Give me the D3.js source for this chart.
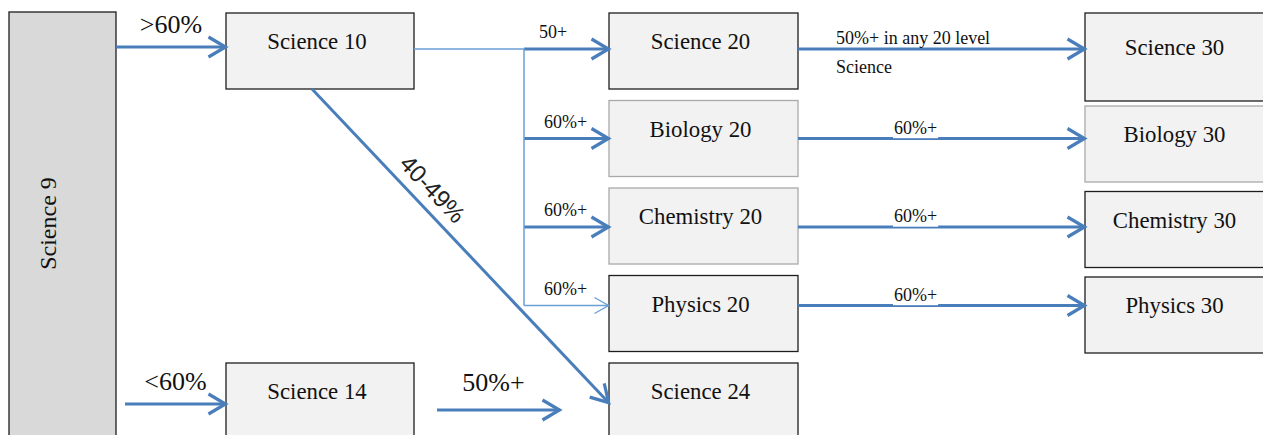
<!DOCTYPE html>
<html>
<head>
<meta charset="utf-8">
<script src="https://cdn.jsdelivr.net/npm/d3@7"></script>
<style>
  body { margin: 0; background: #fff; }
  svg { display: block; }
  .box rect { fill: #f2f2f2; stroke: #1e1e1e; stroke-width: 1.3; }
  .box.light rect { stroke: #a9a9a9; }
  .box.root rect { fill: #d9d9d9; }
  .box text { font-family: "Liberation Serif", "Times New Roman", serif; font-size: 24px; fill: #111; }
  .edge { fill: none; stroke: #4a7ebb; stroke-width: 3; }
  .edge.thin { stroke: #6a9fd8; stroke-width: 1.5; }
  .lbl { font-family: "Liberation Serif", "Times New Roman", serif; fill: #111; }
  .lbl.big { font-size: 26px; }
  .lbl.small { font-size: 18px; }
  .lbl.sans { font-family: "Liberation Sans", Arial, sans-serif; font-size: 24px; fill: #222; }
</style>
</head>
<body>
<script>
// courses, their grade level and the row they sit on in their column
var courses = ["Science 9", "Science 10", "Science 14", "Science 20", "Biology 20",
               "Chemistry 20", "Physics 20", "Science 24", "Science 30", "Biology 30",
               "Chemistry 30", "Physics 30"];
var courseLevel = [9, 10, 14, 20, 20, 20, 20, 24, 30, 30, 30, 30];
var courseRow = [0, 0, 4, 0, 1, 2, 3, 4, 0, 1, 2, 3];

// pathways between courses and the mark needed
var pathFrom = ["Science 9", "Science 9", "Science 10", "Science 10", "Science 10",
                "Science 10", "Science 10", "Science 14", "Science 20", "Biology 20",
                "Chemistry 20", "Physics 20"];
var pathTo = ["Science 10", "Science 14", "Science 20", "Biology 20", "Chemistry 20",
              "Physics 20", "Science 24", "Science 24", "Science 30", "Biology 30",
              "Chemistry 30", "Physics 30"];
var pathLabel = [">60%", "<60%", "50+", "60%+", "60%+", "60%+", "40-49%", "50%+",
                 "50%+ in any 20 level\nScience", "60%+", "60%+", "60%+"];

var width = 1263, height = 435;

// layout
var colOf = d3.scaleThreshold().domain([10, 20, 30]).range([0, 1, 2, 3]);
var colX = d3.scaleOrdinal().domain([0, 1, 2, 3]).range([9, 226, 609, 1085]);
var colW = d3.scaleOrdinal().domain([0, 1, 2, 3]).range([107, 188, 189, 185]);
var rowY = d3.scaleLinear().domain([0, 4]).range([13, 363]);
var rowY30 = d3.scaleLinear().domain([1, 3]).range([106, 277]);
// where the arrows meet the 20 level boxes, measured from the row top
var arrowY = d3.scaleOrdinal().domain([0, 1, 2, 3]).range([36, 38, 39, 30]);
var boxH = 76;
var lightBoxes = ["Biology 20", "Chemistry 20", "Biology 30"];
var thinBranch = "Physics 20";

var nodes = courses.map(function(name, i) {
  var c = colOf(courseLevel[i]);
  var n = { name: name, col: c, row: courseRow[i], x: colX(c), w: colW(c),
            y: rowY(courseRow[i]), h: boxH };
  if (c === 0) { n.y = 12; n.h = height + 20; }
  if (c === 3) {
    n.y = n.row === 0 ? 13 : rowY30(n.row);
    n.h = n.row === 0 ? 88 : boxH;
  }
  return n;
});
var byName = {};
nodes.forEach(function(n) { byName[n.name] = n; });

var svg = d3.select("body").append("svg")
    .attr("width", width)
    .attr("height", height);

var defs = svg.append("defs");
function chevron(id, len, half, sw, color) {
  defs.append("marker")
      .attr("id", id)
      .attr("markerUnits", "userSpaceOnUse")
      .attr("viewBox", (-len - 4) + " " + (-half - 4) + " " + (len + 8) + " " + (2 * half + 8))
      .attr("markerWidth", len + 8)
      .attr("markerHeight", 2 * half + 8)
      .attr("refX", 0.5)
      .attr("refY", 0)
      .attr("orient", "auto")
    .append("path")
      .attr("d", "M" + (-len) + "," + (-half) + "L0,0L" + (-len) + "," + half)
      .attr("fill", "none")
      .attr("stroke", color)
      .attr("stroke-width", sw);
}
chevron("head", 17, 10, 3.2, "#4a7ebb");
chevron("headThin", 14, 8, 1.4, "#6a9fd8");

// boxes
var box = svg.selectAll("g.box")
    .data(nodes)
  .enter().append("g")
    .attr("class", function(d) {
      return "box" + (d.col === 0 ? " root" : "") + (lightBoxes.indexOf(d.name) >= 0 ? " light" : "");
    });

box.append("rect")
    .attr("x", function(d) { return d.x; })
    .attr("y", function(d) { return d.y; })
    .attr("width", function(d) { return d.w; })
    .attr("height", function(d) { return d.h; });

box.append("text")
    .attr("text-anchor", "middle")
    .attr("transform", function(d) {
      if (d.col === 0) {
        return "translate(" + (d.x + d.w / 2 - 7) + "," + ((d.y + height) / 2) + ") rotate(-90)";
      }
      return "translate(" + (d.x + d.w / 2 - 3) + "," + (d.y + d.h / 2 - 2) + ") scale(0.95,1)";
    })
    .text(function(d) { return d.name; });

// edges
var edgeG = svg.append("g");
var labelG = svg.append("g");
var line = d3.line();

function arrow(pts, thin) {
  edgeG.append("path")
      .attr("class", "edge" + (thin ? " thin" : ""))
      .attr("d", line(pts))
      .attr("marker-end", thin ? "url(#headThin)" : "url(#head)");
}

var branchX = colX(2) - 85;
var branchYs = [];

pathFrom.forEach(function(from, i) {
  var s = byName[from], t = byName[pathTo[i]], lab = pathLabel[i];
  var x1, x2, y;

  if (s.col === 0) {
    x1 = s.x + s.w + (t.row === 4 ? 9 : 0);
    x2 = t.x;
    y = t.y + (t.row === 4 ? 41 : 34);
    arrow([[x1, y], [x2, y]]);
    labelG.append("text").attr("class", "lbl big")
        .attr("x", (x1 + x2) / 2).attr("y", y - 14)
        .attr("text-anchor", "middle").text(lab);
  }
  else if (s.col === 1 && s.row === 0 && t.row < 4) {
    // branch off the common trunk
    y = t.y + arrowY(t.row);
    branchYs.push(y);
    var thin = t.name === thinBranch;
    arrow([[branchX, y], [t.x, y]], thin);
    labelG.append("text").attr("class", "lbl small")
        .attr("x", branchX + (t.row === 0 ? 15 : 20)).attr("y", y - 11)
        .text(lab);
  }
  else if (s.col === 1 && s.row !== t.row) {
    // diagonal drop to the bottom row
    var p1 = [s.x + s.w / 2 - 8, s.y + s.h];
    var p2 = [t.x, t.y + 40];
    arrow([p1, p2]);
    var dx = p2[0] - p1[0], dy = p2[1] - p1[1], len = Math.sqrt(dx * dx + dy * dy);
    var ang = Math.atan2(dy, dx) * 180 / Math.PI;
    var tt = 0.36, off = 19;
    var cx = p1[0] + dx * tt + off * dy / len, cy = p1[1] + dy * tt - off * dx / len;
    labelG.append("text").attr("class", "lbl sans")
        .attr("text-anchor", "middle")
        .attr("dominant-baseline", "central")
        .attr("transform", "translate(" + cx + "," + cy + ") rotate(" + ang + ")")
        .text(lab);
  }
  else if (s.col === 1) {
    // short arrow that stops before the box
    x1 = s.x + s.w + 23;
    x2 = t.x - 49;
    y = s.y + 47;
    arrow([[x1, y], [x2, y]]);
    labelG.append("text").attr("class", "lbl big")
        .attr("x", (x1 + x2) / 2 - 5).attr("y", y - 19)
        .attr("text-anchor", "middle").text(lab);
  }
  else {
    x1 = s.x + s.w;
    x2 = t.x;
    y = s.y + arrowY(s.row);
    arrow([[x1, y], [x2, y]]);
    var lines = lab.split("\n");
    var lx = lines.length > 1 ? x1 + 38 : x1 + 96;
    var txt = labelG.append("text").attr("class", "lbl small")
        .attr("x", lx).attr("y", y - 5);
    lines.forEach(function(l, k) {
      txt.append("tspan").attr("x", lx).attr("dy", k === 0 ? 0 : 29).text(l);
    });
    if (lines.length === 1) {
      var bb = txt.node().getBBox();
      labelG.insert("rect", function() { return txt.node(); })
          .attr("x", bb.x - 1).attr("y", bb.y)
          .attr("width", bb.width + 2).attr("height", y - bb.y - 0.3)
          .attr("fill", "#fff");
    }
  }
});

// trunk from Science 10 to the branch column
var sci10 = byName["Science 10"];
edgeG.append("path")
    .attr("class", "edge thin")
    .attr("d", line([[sci10.x + sci10.w, d3.min(branchYs)], [branchX, d3.min(branchYs)],
                     [branchX, d3.max(branchYs)]]));
</script>
</body>
</html>
